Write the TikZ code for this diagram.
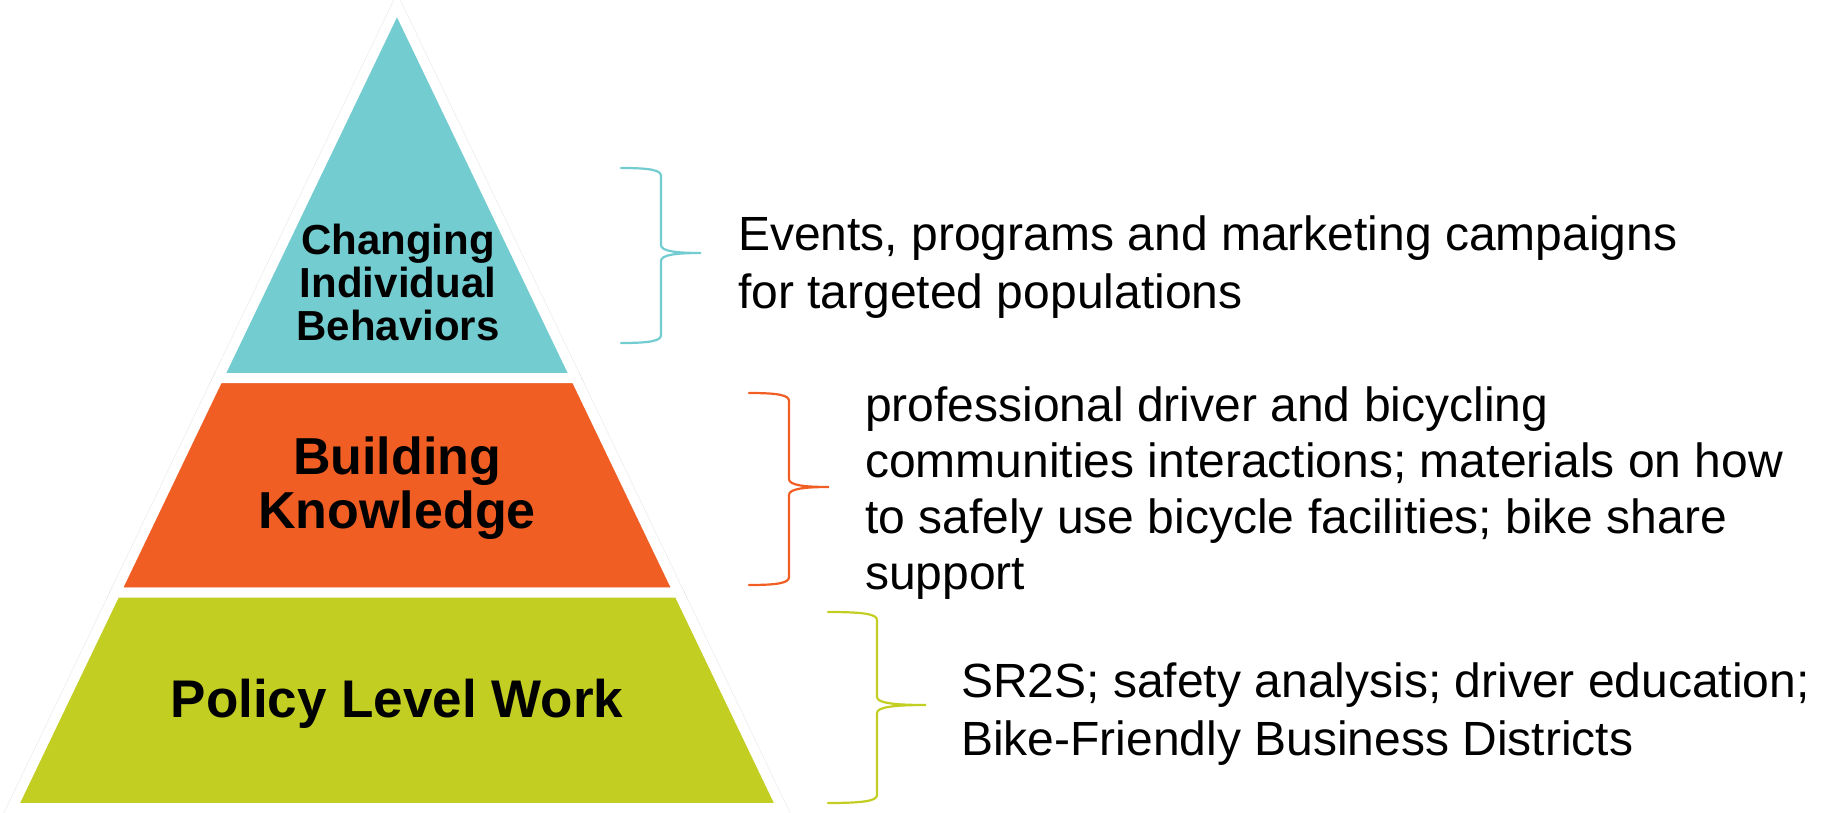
\documentclass[tikz,border=0pt]{standalone}
\usepackage{fontspec}
\setmainfont{Liberation Sans}
\definecolor{tealc}{RGB}{115,204,208}
\definecolor{orangec}{RGB}{241,94,36}
\definecolor{greenc}{RGB}{195,206,35}
% right curly brace: colour, left end x, spine x, tip x, top y, tip y, bottom y
\newcommand\rightbrace[7]{%
  \draw[bracestroke,#1]
    (#2,#5) .. controls ({#2+0.72*(#3-#2)},#5) and (#3,{#5+2}) .. (#3,{#5+8})
    -- (#3,{#6-8}) .. controls (#3,{#6-2}) and ({#3+0.35*(#4-#3)},#6) .. (#4,#6)
    .. controls ({#3+0.35*(#4-#3)},#6) and (#3,{#6+2}) .. (#3,{#6+8})
    -- (#3,{#7-8}) .. controls (#3,{#7-2}) and ({#2+0.72*(#3-#2)},#7) .. (#2,#7);}
\begin{document}
\begin{tikzpicture}[x=1pt,y=-1pt,
  tier/.style={draw=white, line width=10pt, line join=miter, miter limit=10},
  tiershadow/.style={draw=black, draw opacity=0.10, line width=11pt, line join=miter, miter limit=10, shift={(2,3)}},
  bracestroke/.style={line width=2.2pt, line cap=round},
  desc/.style={anchor=base west, align=left, inner sep=0pt, text=black},
  tierlabel/.style={anchor=base, align=center, inner sep=0pt, text=black, font=\bfseries}]
\useasboundingbox (0,0) rectangle (1826,813);

% outline of the pyramid and its tier boundaries
\coordinate (apex) at (397,5.44);
\coordinate (l1) at (218.3,378);   \coordinate (r1) at (575.7,378);
\coordinate (l2) at (115.45,592.5); \coordinate (r2) at (678.55,592.5);
\coordinate (l3) at (12.1,808);    \coordinate (r3) at (781.9,808);

% soft shadows
\draw[tiershadow] (apex) -- (r1) -- (l1) -- cycle;
\draw[tiershadow] (l1) -- (r1) -- (r2) -- (l2) -- cycle;
\draw[tiershadow] (l2) -- (r2) -- (r3) -- (l3) -- cycle;

% tiers
\filldraw[tier, fill=tealc] (apex) -- (r1) -- (l1) -- cycle;
\filldraw[tier, fill=orangec] (l1) -- (r1) -- (r2) -- (l2) -- cycle;
\filldraw[tier, fill=greenc] (l2) -- (r2) -- (r3) -- (l3) -- cycle;

% tier labels (anchored at the baseline of their last line)
\node[tierlabel, font=\bfseries\fontsize{42}{43}\selectfont] (top) at (398,340)
  {Changing\\Individual\\Behaviors};
\node[tierlabel, font=\bfseries\fontsize{52}{54}\selectfont] (mid) at (397,528)
  {Building\\Knowledge};
\node[tierlabel, font=\bfseries\fontsize{53}{54}\selectfont] (base) at (397,717)
  {Policy Level Work};

% braces
\rightbrace{tealc}{621}{661}{701}{168}{253}{343}
\rightbrace{orangec}{749}{789}{829}{393}{487}{585}
\rightbrace{greenc}{828}{877}{926}{612}{705}{803}

% descriptions (anchored at the baseline of their last line)
\node[desc, font=\fontsize{48}{58}\selectfont] (d1) at (738,308)
  {Events, programs and marketing campaigns\\for targeted populations};
\node[desc, font=\fontsize{48}{56}\selectfont] (d2) at (865,589)
  {professional driver and bicycling\\communities interactions; materials on how\\to safely use bicycle facilities; bike share\\support};
\node[desc, font=\fontsize{48}{58}\selectfont] (d3) at (961,755)
  {SR2S; safety analysis; driver education;\\Bike-Friendly Business Districts};
\end{tikzpicture}
\end{document}
